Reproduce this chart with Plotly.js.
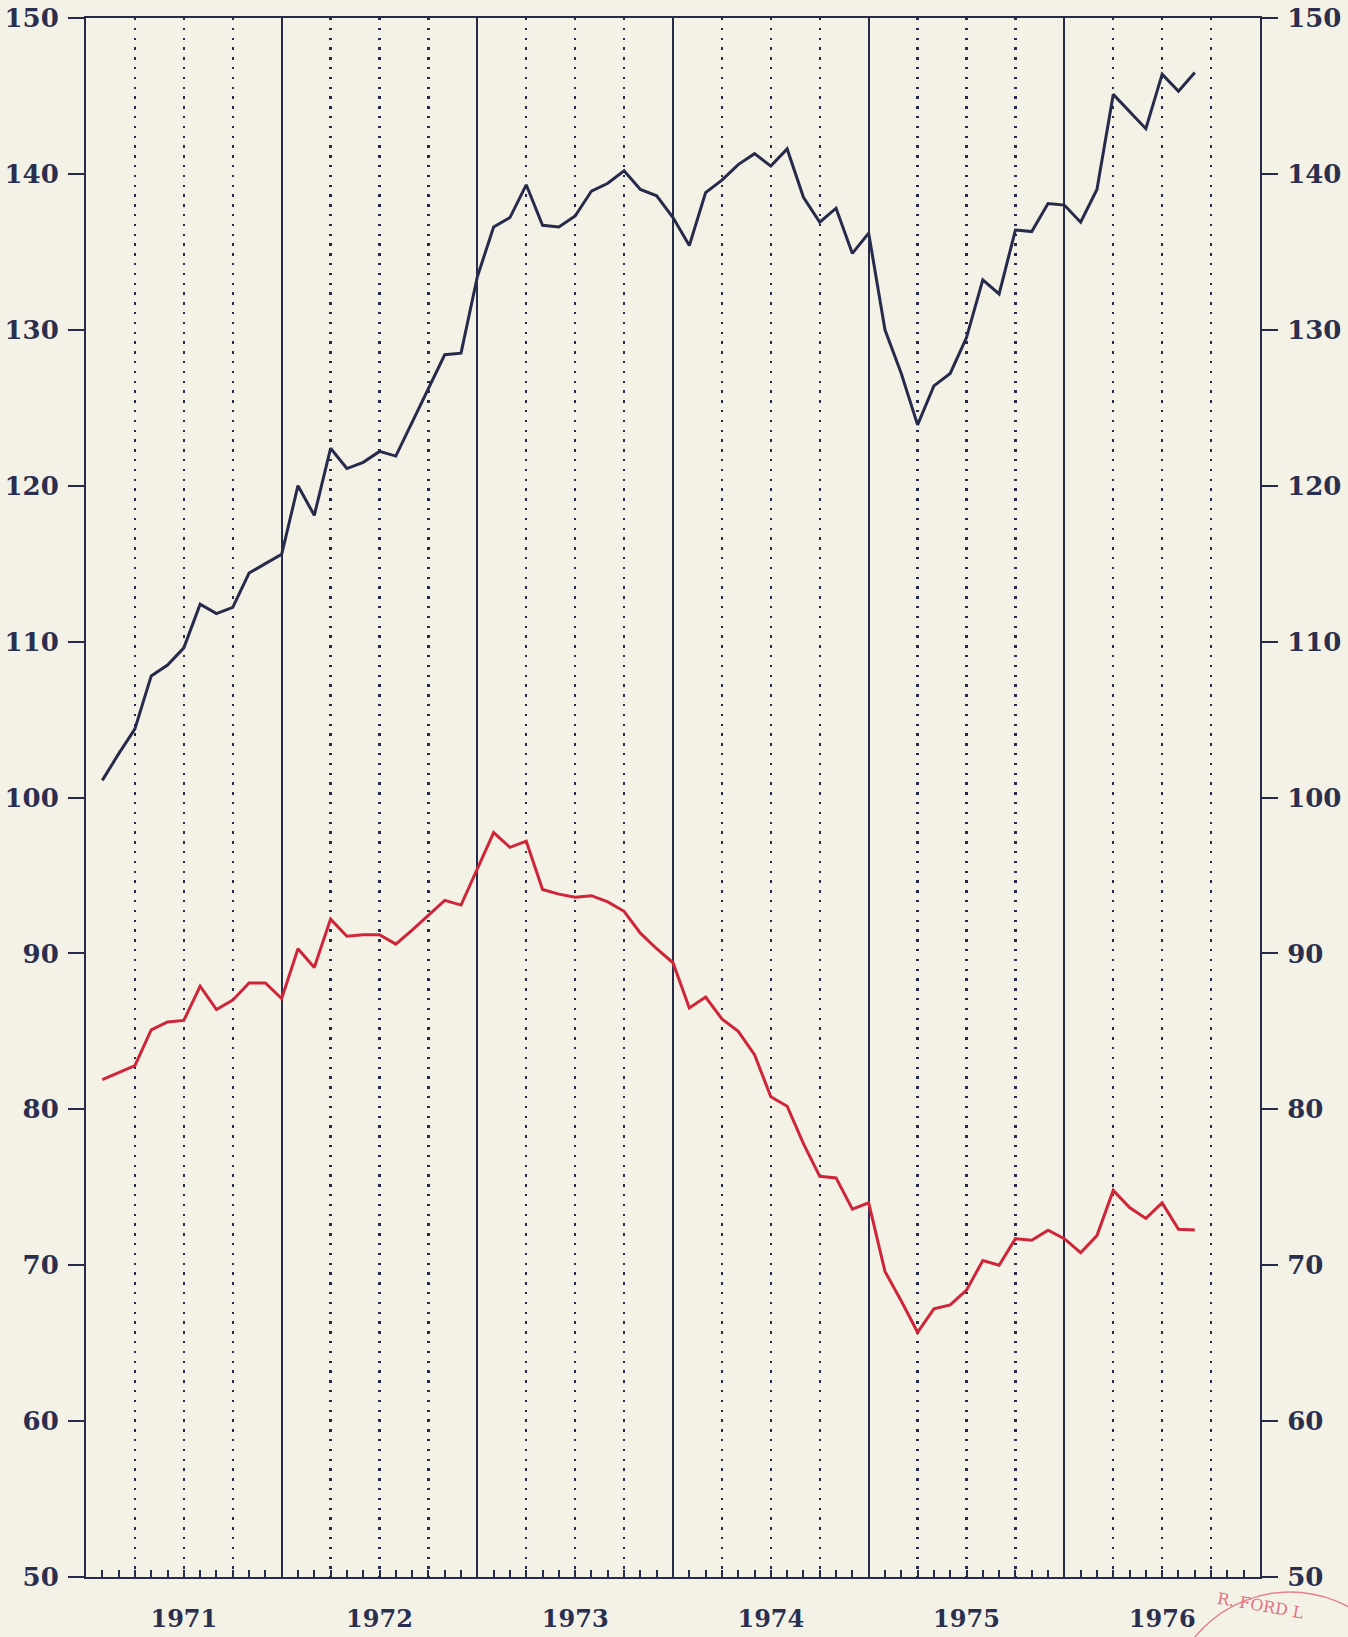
<!DOCTYPE html>
<html>
<head>
<meta charset="utf-8">
<script src="https://cdn.plot.ly/plotly-3.0.1.min.js"></script>
<style>
  html, body { margin: 0; padding: 0; background: #f4f1e6; }
  #chart { width: 1348px; height: 1637px; }
</style>
</head>
<body>
<div id="chart"></div>
<script>
// Month index (end of month, counted from start of 1971)
const months = [1,2,3,4,5,6,7,8,9,10,11,12,13,14,15,16,17,18,19,20,21,22,23,24,
  25,26,27,28,29,30,31,32,33,34,35,36,37,38,39,40,41,42,43,44,45,46,47,48,
  49,50,51,52,53,54,55,56,57,58,59,60,61,62,63,64,65,66,67,68];

// Upper (dark blue) series
const seriesBlue = [101.1,102.8,104.4,107.8,108.5,109.6,112.4,111.8,112.2,114.4,115.0,115.6,
  120.0,118.1,122.4,121.1,121.5,122.2,121.9,124.1,126.2,128.4,128.5,133.4,
  136.6,137.2,139.3,136.7,136.6,137.3,138.9,139.4,140.2,139.0,138.6,137.2,
  135.4,138.8,139.6,140.6,141.3,140.5,141.6,138.5,136.9,137.8,134.9,136.2,
  130.0,127.2,123.9,126.4,127.2,129.5,133.2,132.3,136.4,136.3,138.1,138.0,
  136.9,139.0,145.1,144.0,142.9,146.4,145.3,146.5];

// Lower (red) series
const seriesRed = [81.9,82.35,82.8,85.1,85.6,85.7,87.9,86.4,87.0,88.1,88.1,87.1,
  90.3,89.1,92.2,91.1,91.2,91.2,90.6,91.5,92.45,93.4,93.1,95.4,
  97.75,96.8,97.2,94.1,93.8,93.6,93.7,93.3,92.7,91.3,90.3,89.4,
  86.5,87.2,85.8,85.0,83.5,80.8,80.2,77.8,75.7,75.6,73.6,74.0,
  69.6,67.7,65.7,67.2,67.45,68.4,70.3,70.0,71.7,71.6,72.25,71.7,
  70.8,71.9,74.8,73.7,73.0,74.0,72.3,72.25];

// Year labels, placed at the middle of each year
const yearLabels = ["1971","1972","1973","1974","1975","1976"];
const yearCenters = [6,18,30,42,54,66];

const navy = "#262b4b";
const red = "#cf2539";
const yTickFont = {family: "DejaVu Serif", size: 26, color: "#2a2f50", weight: "bold"};
const xTickFont = {family: "DejaVu Serif", size: 24, color: "#2a2f50", weight: "bold"};

const traces = [
  {x: months, y: seriesBlue, type: "scatter", mode: "lines",
   line: {color: navy, width: 3}, xaxis: "x", yaxis: "y", hoverinfo: "skip"},
  {x: months, y: seriesRed, type: "scatter", mode: "lines",
   line: {color: red, width: 3}, xaxis: "x", yaxis: "y", hoverinfo: "skip"}
];

const layout = {
  width: 1348, height: 1637,
  margin: {l: 86, r: 88, t: 18, b: 60},
  paper_bgcolor: "#f4f1e6",
  plot_bgcolor: "rgba(0,0,0,0)",
  showlegend: false,
  xaxis: {
    range: [0, 72], tickmode: "linear", tick0: 0, dtick: 1,
    ticks: "inside", ticklen: 7, tickwidth: 2, tickcolor: navy,
    showticklabels: false, showgrid: false, zeroline: false,
    showline: true, linecolor: navy, linewidth: 2, mirror: true
  },
  xaxis2: {
    overlaying: "x", range: [0, 72], tickmode: "linear", tick0: 0, dtick: 12,
    ticks: "", showticklabels: false, zeroline: false, showline: false,
    showgrid: true, gridcolor: navy, gridwidth: 2,
    minor: {tickmode: "linear", tick0: 0, dtick: 3, ticks: "", showgrid: true,
            gridcolor: navy, gridwidth: 2.3, griddash: "2.3px,7.5px"}
  },
  xaxis3: {
    overlaying: "x", range: [0, 72], tickmode: "array",
    tickvals: yearCenters, ticktext: yearLabels,
    ticks: "", showgrid: false, zeroline: false, showline: false,
    tickfont: xTickFont, ticklabelstandoff: 25, side: "bottom"
  },
  yaxis: {
    range: [50, 150], tickmode: "linear", tick0: 50, dtick: 10,
    ticks: "outside", ticklen: 16, tickwidth: 2, tickcolor: navy,
    showline: true, linecolor: navy, linewidth: 2,
    showgrid: false, zeroline: false, tickfont: yTickFont, ticklabelstandoff: 4
  },
  yaxis2: {
    overlaying: "y", side: "right", range: [50, 150], tickmode: "linear", tick0: 50, dtick: 10,
    ticks: "outside", ticklen: 16, tickwidth: 2, tickcolor: navy,
    showline: true, linecolor: navy, linewidth: 2,
    showgrid: false, zeroline: false, tickfont: yTickFont, ticklabelstandoff: 4
  },
  shapes: [
    {type: "circle", xref: "paper", yref: "paper",
     x0: 0.921, x1: 1.130, y0: -0.1674, y1: -0.0096,
     line: {color: "#e5808a", width: 1.5}, layer: "above"}
  ],
  annotations: [
    {text: "R. FORD L", xref: "paper", yref: "paper", x: 1.0, y: -0.018,
     xanchor: "center", yanchor: "middle", showarrow: false, textangle: 10,
     font: {family: "DejaVu Serif", size: 16, color: "#e07480"}}
  ]
};

// Helper traces to activate the overlay axes (no visible marks)
traces.push({x: [0, 72], y: [50, 50], type: "scatter", mode: "none", xaxis: "x2", yaxis: "y", hoverinfo: "skip"});
traces.push({x: [0, 72], y: [50, 50], type: "scatter", mode: "none", xaxis: "x3", yaxis: "y2", hoverinfo: "skip"});

Plotly.newPlot("chart", traces, layout, {staticPlot: true});
</script>
</body>
</html>
